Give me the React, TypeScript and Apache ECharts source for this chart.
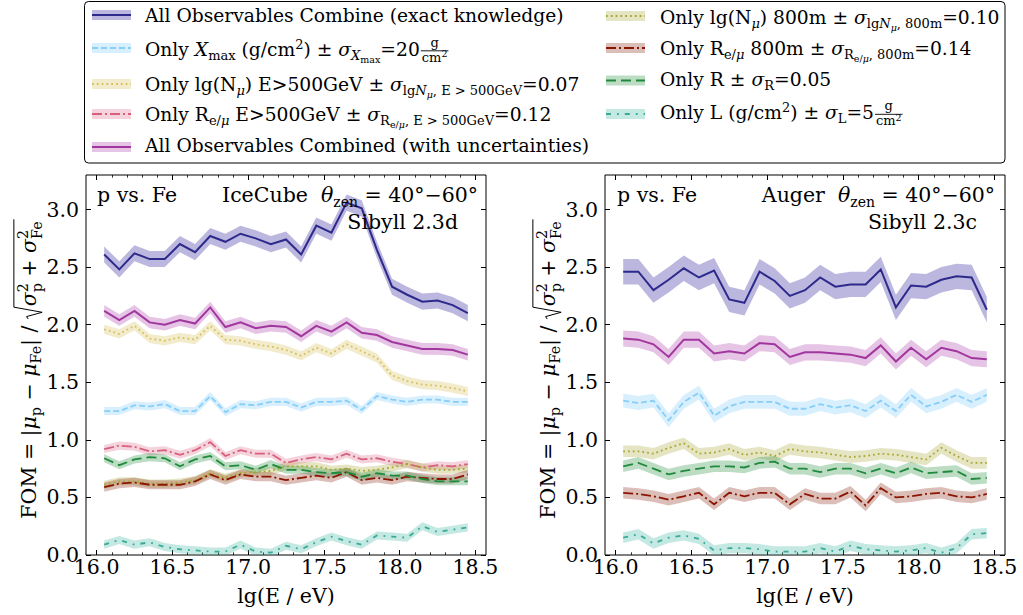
import { useEffect, useRef } from 'react';
import * as echarts from 'echarts';

// ---------------- data ----------------
const energies = [16.05, 16.15, 16.25, 16.35, 16.45, 16.55, 16.65, 16.75, 16.85, 16.95, 17.05, 17.15, 17.25, 17.35, 17.45, 17.55, 17.65, 17.75, 17.85, 17.95, 18.05, 18.15, 18.25, 18.35, 18.45];

// IceCube panel (Sibyll 2.3d)
const icExact = [2.61, 2.48, 2.62, 2.57, 2.57, 2.70, 2.63, 2.77, 2.72, 2.79, 2.75, 2.70, 2.74, 2.61, 2.86, 2.80, 3.06, 3.01, 2.65, 2.33, 2.26, 2.20, 2.21, 2.17, 2.10];
const icCombined = [2.12, 2.04, 2.12, 2.02, 2.00, 2.04, 2.01, 2.15, 1.98, 2.02, 1.97, 1.99, 1.98, 1.90, 1.99, 1.94, 2.02, 1.93, 1.91, 1.85, 1.82, 1.79, 1.79, 1.78, 1.74];
const icLgNmuE500 = [1.96, 1.92, 1.99, 1.88, 1.86, 1.89, 1.87, 1.99, 1.87, 1.86, 1.83, 1.81, 1.78, 1.73, 1.80, 1.75, 1.83, 1.77, 1.71, 1.56, 1.51, 1.48, 1.47, 1.45, 1.42];
const icXmax = [1.25, 1.25, 1.30, 1.29, 1.31, 1.25, 1.25, 1.38, 1.24, 1.31, 1.30, 1.33, 1.33, 1.28, 1.33, 1.33, 1.34, 1.26, 1.38, 1.35, 1.33, 1.35, 1.35, 1.33, 1.33];
const icRemuE500 = [0.92, 0.95, 0.94, 0.90, 0.91, 0.87, 0.91, 0.98, 0.86, 0.91, 0.88, 0.88, 0.80, 0.83, 0.85, 0.83, 0.88, 0.83, 0.84, 0.81, 0.79, 0.76, 0.78, 0.77, 0.79];
const icLgNmu800 = [0.61, 0.64, 0.64, 0.62, 0.62, 0.63, 0.65, 0.71, 0.67, 0.71, 0.72, 0.73, 0.77, 0.77, 0.77, 0.74, 0.75, 0.73, 0.74, 0.76, 0.79, 0.76, 0.74, 0.74, 0.75];
const icRemu800 = [0.59, 0.62, 0.63, 0.61, 0.61, 0.61, 0.64, 0.70, 0.65, 0.70, 0.68, 0.68, 0.65, 0.67, 0.69, 0.67, 0.72, 0.65, 0.67, 0.65, 0.68, 0.67, 0.66, 0.66, 0.70];
const icR = [0.84, 0.78, 0.83, 0.85, 0.84, 0.77, 0.83, 0.86, 0.77, 0.78, 0.74, 0.79, 0.74, 0.74, 0.72, 0.71, 0.72, 0.68, 0.71, 0.69, 0.69, 0.66, 0.64, 0.64, 0.64];
const icL = [0.09, 0.13, 0.09, 0.11, 0.07, 0.05, 0.04, 0.03, 0.03, 0.09, 0.03, 0.02, 0.08, 0.05, 0.11, 0.16, 0.12, 0.09, 0.17, 0.16, 0.15, 0.25, 0.20, 0.22, 0.24];

// Auger panel (Sibyll 2.3c)
const agExact = [2.46, 2.46, 2.30, 2.39, 2.49, 2.41, 2.47, 2.22, 2.19, 2.46, 2.38, 2.25, 2.30, 2.41, 2.33, 2.35, 2.35, 2.48, 2.15, 2.34, 2.33, 2.39, 2.42, 2.41, 2.13];
const agCombined = [1.88, 1.87, 1.83, 1.72, 1.87, 1.87, 1.75, 1.77, 1.75, 1.84, 1.83, 1.72, 1.76, 1.76, 1.75, 1.74, 1.71, 1.82, 1.68, 1.80, 1.70, 1.80, 1.77, 1.71, 1.70];
const agXmax = [1.34, 1.32, 1.34, 1.17, 1.33, 1.41, 1.21, 1.29, 1.33, 1.33, 1.33, 1.27, 1.27, 1.31, 1.28, 1.30, 1.25, 1.34, 1.25, 1.39, 1.29, 1.33, 1.39, 1.33, 1.39];
const agLgNmu800 = [0.90, 0.90, 0.88, 0.93, 0.97, 0.88, 0.89, 0.92, 0.87, 0.89, 0.86, 0.92, 0.90, 0.89, 0.87, 0.85, 0.86, 0.88, 0.87, 0.85, 0.83, 0.93, 0.86, 0.80, 0.80];
const agRemu800 = [0.54, 0.53, 0.51, 0.48, 0.51, 0.54, 0.44, 0.54, 0.51, 0.54, 0.54, 0.44, 0.53, 0.49, 0.49, 0.55, 0.43, 0.58, 0.50, 0.51, 0.53, 0.54, 0.51, 0.50, 0.53];
const agR = [0.77, 0.80, 0.75, 0.70, 0.73, 0.75, 0.77, 0.77, 0.76, 0.80, 0.81, 0.75, 0.75, 0.72, 0.75, 0.75, 0.71, 0.75, 0.71, 0.76, 0.71, 0.72, 0.73, 0.66, 0.67];
const agL = [0.15, 0.18, 0.10, 0.15, 0.17, 0.14, 0.04, 0.06, 0.06, 0.05, 0.03, 0.03, 0.03, 0.06, 0.03, 0.08, 0.05, 0.04, 0.03, 0.04, 0.06, 0.02, 0.06, 0.18, 0.19];

// half-widths of the shaded uncertainty bands
const icExactErr = 0.07, icCombinedErr = 0.05, icLgNmuE500Err = 0.04, icXmaxErr = 0.035, icRemuE500Err = 0.035;
const icLgNmu800Err = 0.035, icRemu800Err = 0.04, icRErr = 0.035, icLErr = 0.035;
const agExactErr = 0.11, agCombinedErr = 0.07, agXmaxErr = 0.06, agLgNmu800Err = 0.05;
const agRemu800Err = 0.05, agRErr = 0.05, agLErr = 0.045;

// axes
const X_MIN = 15.93, X_MAX = 18.57, Y_MIN = 0, Y_MAX = 3.3;
const xMajorTicks = [16.0, 16.5, 17.0, 17.5, 18.0, 18.5];
const xMinorTicks = [16.1, 16.2, 16.3, 16.4, 16.6, 16.7, 16.8, 16.9, 17.1, 17.2, 17.3, 17.4, 17.6, 17.7, 17.8, 17.9, 18.1, 18.2, 18.3, 18.4];
const yMajorTicks = [0, 0.5, 1.0, 1.5, 2.0, 2.5, 3.0];

// ---------------- styles ----------------
const STY: Record<string, { line: string; band: string; dash: any; w: number }> = {
  exact: { line: '#2e2a8c', band: 'rgba(60,50,160,0.35)', dash: 'solid', w: 2 },
  xmax: { line: '#87cefa', band: 'rgba(135,206,250,0.32)', dash: [6, 3], w: 1.8 },
  lgE500: { line: '#d6c05e', band: 'rgba(222,200,110,0.35)', dash: [1.8, 3], w: 1.8 },
  remuE500: { line: '#d8607e', band: 'rgba(220,110,140,0.3)', dash: [10, 3, 2, 3], w: 1.8 },
  combined: { line: '#a1379e', band: 'rgba(170,60,170,0.3)', dash: 'solid', w: 2 },
  lg800: { line: '#a8a832', band: 'rgba(170,170,60,0.3)', dash: [1.8, 3], w: 1.8 },
  remu800: { line: '#8b1500', band: 'rgba(139,40,20,0.3)', dash: [10, 3, 2, 3], w: 1.8 },
  R: { line: '#1f8a3c', band: 'rgba(34,139,60,0.3)', dash: [10, 5], w: 1.8 },
  L: { line: '#3aaa98', band: 'rgba(60,180,160,0.3)', dash: [5, 6, 1.8, 6], w: 1.8 },
};

const panels = [
  [
    { d: icExact, e: icExactErr, s: 'exact' },
    { d: icXmax, e: icXmaxErr, s: 'xmax' },
    { d: icLgNmuE500, e: icLgNmuE500Err, s: 'lgE500' },
    { d: icRemuE500, e: icRemuE500Err, s: 'remuE500' },
    { d: icCombined, e: icCombinedErr, s: 'combined' },
    { d: icLgNmu800, e: icLgNmu800Err, s: 'lg800' },
    { d: icRemu800, e: icRemu800Err, s: 'remu800' },
    { d: icR, e: icRErr, s: 'R' },
    { d: icL, e: icLErr, s: 'L' },
  ],
  [
    { d: agExact, e: agExactErr, s: 'exact' },
    { d: agXmax, e: agXmaxErr, s: 'xmax' },
    { d: agCombined, e: agCombinedErr, s: 'combined' },
    { d: agLgNmu800, e: agLgNmu800Err, s: 'lg800' },
    { d: agRemu800, e: agRemu800Err, s: 'remu800' },
    { d: agR, e: agRErr, s: 'R' },
    { d: agL, e: agLErr, s: 'L' },
  ],
];

// ---------------- math-text layout helpers ----------------
const FAM = 'DejaVu Serif';
const KC = 0.33;
let ctx: CanvasRenderingContext2D | null = null;
function tw(t: string, fs: number, it?: boolean) {
  if (!ctx) ctx = document.createElement('canvas').getContext('2d');
  ctx!.font = `${it ? 'italic ' : ''}${fs}px "${FAM}"`;
  return ctx!.measureText(t).width;
}
function txt(t: string, x: number, base: number, fs: number, it?: boolean) {
  return {
    type: 'text', x, y: base - KC * fs, z: 100, silent: true,
    style: {
      text: t, fontSize: fs, fontFamily: FAM, fontStyle: it ? 'italic' : 'normal', fill: '#000',
      align: 'left', verticalAlign: 'middle', textAlign: 'left', textVerticalAlign: 'middle',
    },
  };
}
function runItems(items: any[], x: number, base: number, out: any[] | null): number {
  let prevStart = x;
  let prevEnd = x;
  for (const it of items) {
    if (it.frac) {
      const fs = it.fs;
      const nw = runItems(it.frac[0], 0, 0, null);
      const dw = runItems(it.frac[1], 0, 0, null);
      const W = Math.max(nw, dw) + 2;
      const bar = base - 0.25 * fs;
      if (out) {
        runItems(it.frac[0], x + 1 + (W - nw) / 2, bar - 0.22 * fs, out);
        runItems(it.frac[1], x + 1 + (W - dw) / 2, bar + 0.57 * fs, out);
        out.push({ type: 'line', z: 100, silent: true, shape: { x1: x + 1, y1: bar, x2: x + 1 + W, y2: bar }, style: { stroke: '#000', lineWidth: 0.9 } });
      }
      prevStart = x;
      x += W + 2;
      prevEnd = x;
    } else if (it.sqrt) {
      const fs = it.fs;
      const iw = runItems(it.sqrt, 0, 0, null);
      const top = base - 1.08 * fs;
      const bot = base + 0.3 * fs;
      const cx = x + 0.62 * fs;
      if (out) {
        out.push({
          type: 'polyline', z: 100, silent: true,
          shape: { points: [[x, base - 0.38 * fs], [x + 0.12 * fs, base - 0.46 * fs], [x + 0.33 * fs, bot], [x + 0.58 * fs, top], [cx + iw + 0.1 * fs, top]] },
          style: { stroke: '#000', lineWidth: 1, fill: 'none' },
        });
        runItems(it.sqrt, cx, base, out);
      }
      prevStart = x;
      x = cx + iw + 0.1 * fs;
      prevEnd = x;
    } else {
      const start = it.stack ? prevStart : x;
      const w = tw(it.t, it.fs, it.it);
      if (out) out.push(txt(it.t, start, base + (it.dy || 0), it.fs, it.it));
      if (it.stack) {
        x = Math.max(prevEnd, start + w);
      } else {
        prevStart = start;
        x = start + w;
      }
      prevEnd = x;
    }
  }
  return x;
}
function mathGroup(items: any[], x: number, base: number, align: string, rotation = 0) {
  const W = runItems(items, 0, 0, null);
  const x0 = align === 'left' ? 0 : align === 'right' ? -W : -W / 2;
  const children: any[] = [];
  runItems(items, x0, 0, children);
  return { type: 'group', x, y: base, rotation, children, z: 100 };
}

// legend text pieces
const F = 18.7, S = 13, SS = 9.5;
const R = (t: string, fs = F) => ({ t, fs });
const I = (t: string, fs = F) => ({ t, fs, it: true });
const sb = (t: string, it = false) => ({ t, fs: S, it, dy: 0.22 * F });
const ssb = (t: string, it = false) => ({ t, fs: SS, it, dy: 0.22 * F + 0.2 * S });
const sp = (t: string) => ({ t, fs: S, dy: -0.38 * F });
const unitFrac = () => ({ frac: [[{ t: 'g', fs: S }], [{ t: 'cm', fs: S }, { t: '2', fs: SS, dy: -0.35 * S }]], fs: F });

const legendLeft = [
  { s: 'exact', items: [R('All Observables Combine (exact knowledge)')] },
  { s: 'xmax', items: [R('Only '), I('X'), sb('max'), R(' (g/cm'), sp('2'), R(') ± '), I('σ'), sb('X', true), ssb('max'), R('=20'), unitFrac()] },
  { s: 'lgE500', items: [R('Only lg(N'), sb('μ', true), R(') E>500GeV ± '), I('σ'), sb('lg'), sb('N', true), ssb('μ', true), sb(', E > 500GeV'), R('=0.07')] },
  { s: 'remuE500', items: [R('Only R'), sb('e/'), sb('μ', true), R(' E>500GeV ± '), I('σ'), sb('R'), ssb('e/'), ssb('μ', true), sb(', E > 500GeV'), R('=0.12')] },
  { s: 'combined', items: [R('All Observables Combined (with uncertainties)')] },
];
const legendRight = [
  { s: 'lg800', items: [R('Only lg(N'), sb('μ', true), R(') 800m ± '), I('σ'), sb('lg'), sb('N', true), ssb('μ', true), sb(', 800m'), R('=0.10')] },
  { s: 'remu800', items: [R('Only R'), sb('e/'), sb('μ', true), R(' 800m ± '), I('σ'), sb('R'), ssb('e/'), ssb('μ', true), sb(', 800m'), R('=0.14')] },
  { s: 'R', items: [R('Only R ± '), I('σ'), sb('R'), R('=0.05')] },
  { s: 'L', items: [R('Only L (g/cm'), sp('2'), R(') ± '), I('σ'), sb('L'), R('=5'), unitFrac()] },
];
const legLeftHandleY = [15, 48, 84, 114, 147];
const legLeftBaseY = [22, 55.5, 90.5, 120.5, 152];
const legRightHandleY = [16, 48, 80.5, 114];
const legRightBaseY = [23.5, 55, 86, 119];

function handle(x: number, cy: number, key: string) {
  const st = STY[key];
  return [
    { type: 'rect', z: 99, silent: true, shape: { x, y: cy - 5, width: 39, height: 10 }, style: { fill: st.band } },
    {
      type: 'line', z: 100, silent: true, shape: { x1: x, y1: cy, x2: x + 39, y2: cy },
      style: { stroke: st.line, lineWidth: st.w, lineDash: st.dash === 'solid' ? null : st.dash },
    },
  ];
}

// annotations
const A = 20.5;
const AS = 14;
const annoLeft = [R('IceCube  ', A), I('θ', A), { t: 'zen', fs: AS, dy: 0.22 * A }, R(' = 40°−60°', A)];
const annoRight = [R('Auger  ', A), I('θ', A), { t: 'zen', fs: AS, dy: 0.22 * A }, R(' = 40°−60°', A)];

// y-axis title
const YF = 20.5, YS = 14.3;
const yTitle = [
  R('FOM = |', YF), I('μ', YF), { t: 'p', fs: YS, dy: 0.22 * YF }, R(' − ', YF), I('μ', YF), { t: 'Fe', fs: YS, dy: 0.22 * YF }, R('| / ', YF),
  {
    sqrt: [
      I('σ', YF), { t: '2', fs: YS, dy: -0.42 * YF }, { t: 'p', fs: YS, dy: 0.28 * YF, stack: true },
      R(' + ', YF),
      I('σ', YF), { t: '2', fs: YS, dy: -0.42 * YF }, { t: 'Fe', fs: YS, dy: 0.28 * YF, stack: true },
    ],
    fs: YF,
  },
];

const GRID_L = [86, 605];
const GRID_TOP = 175, GRID_W = 400, GRID_H = 380;

function buildOption() {
  const tickFont = { fontSize: 20.5, fontFamily: FAM, color: '#000' };
  const xAxis: any[] = [];
  const yAxis: any[] = [];
  [0, 1].forEach((g) => {
    const base = { gridIndex: g, type: 'value', min: X_MIN, max: X_MAX, axisLine: { show: false }, splitLine: { show: false } };
    xAxis.push({
      ...base, position: 'bottom',
      axisTick: { inside: true, length: 5, customValues: xMajorTicks, lineStyle: { color: '#000', width: 1 } },
      axisLabel: { customValues: xMajorTicks, formatter: (v: number) => v.toFixed(1), margin: 1, ...tickFont },
      name: 'lg(E / eV)', nameLocation: 'middle', nameGap: 30,
      nameTextStyle: { fontSize: 20.5, fontFamily: FAM, color: '#000' },
    });
    xAxis.push({ ...base, position: 'bottom', axisTick: { inside: true, length: 2.7, customValues: xMinorTicks, lineStyle: { color: '#000', width: 0.8 } }, axisLabel: { show: false } });
    xAxis.push({ ...base, position: 'top', axisTick: { inside: true, length: 5, customValues: xMajorTicks, lineStyle: { color: '#000', width: 1 } }, axisLabel: { show: false } });
    xAxis.push({ ...base, position: 'top', axisTick: { inside: true, length: 2.7, customValues: xMinorTicks, lineStyle: { color: '#000', width: 0.8 } }, axisLabel: { show: false } });
    const ybase = { gridIndex: g, type: 'value', min: Y_MIN, max: Y_MAX, axisLine: { show: false }, splitLine: { show: false } };
    yAxis.push({
      ...ybase, position: 'left',
      axisTick: { inside: true, length: 5, customValues: yMajorTicks, lineStyle: { color: '#000', width: 1 } },
      axisLabel: { customValues: yMajorTicks, formatter: (v: number) => v.toFixed(1), margin: 7, ...tickFont },
    });
    yAxis.push({ ...ybase, position: 'right', axisTick: { inside: true, length: 5, customValues: yMajorTicks, lineStyle: { color: '#000', width: 1 } }, axisLabel: { show: false } });
  });

  const series: any[] = [];
  panels.forEach((list, g) => {
    list.forEach((it) => {
      const st = STY[it.s];
      const lo = it.d.map((v) => v - it.e);
      const hi = it.d.map((v) => v + it.e);
      // shaded band: one polygon through the axis scales
      series.push({
        type: 'custom', xAxisIndex: 4 * g, yAxisIndex: 2 * g, z: 1, silent: true, clip: true,
        data: energies.map((x, i) => [x, lo[i], hi[i]]),
        encode: { x: 0, y: [1, 2] },
        renderItem: (params: any, api: any) => {
          if (params.dataIndex !== 0) return null;
          const up: number[][] = [];
          const dn: number[][] = [];
          for (let i = 0; i < energies.length; i++) {
            up.push(api.coord([energies[i], hi[i]]));
            dn.push(api.coord([energies[i], lo[i]]));
          }
          return { type: 'polygon', shape: { points: up.concat(dn.reverse()) }, style: { fill: st.band, stroke: 'none' } };
        },
      });
      series.push({
        type: 'line', xAxisIndex: 4 * g, yAxisIndex: 2 * g, symbol: 'none', silent: true, z: 2,
        data: energies.map((x, i) => [x, it.d[i]]),
        lineStyle: { color: st.line, width: st.w, type: st.dash, cap: 'butt', join: 'miter' },
      });
    });
  });

  const graphic: any[] = [];
  // legend box
  graphic.push({ type: 'rect', z: 98, silent: true, shape: { x: 84.5, y: 1.5, width: 920.5, height: 161.5, r: 4 }, style: { fill: '#fff', stroke: '#000', lineWidth: 1 } });
  legendLeft.forEach((row, i) => {
    graphic.push(...handle(92, legLeftHandleY[i], row.s));
    graphic.push(mathGroup(row.items, 145, legLeftBaseY[i], 'left'));
  });
  legendRight.forEach((row, i) => {
    graphic.push(...handle(606, legRightHandleY[i], row.s));
    graphic.push(mathGroup(row.items, 660, legRightBaseY[i], 'left'));
  });
  // panel annotations
  graphic.push(mathGroup([R('p vs. Fe', A)], GRID_L[0] + 11, 202, 'left'));
  graphic.push(mathGroup(annoLeft, GRID_L[0] + GRID_W - 8, 202, 'right'));
  graphic.push(mathGroup([R('Sibyll 2.3d', A)], GRID_L[0] + GRID_W - 28, 229, 'right'));
  graphic.push(mathGroup([R('p vs. Fe', A)], GRID_L[1] + 12, 202, 'left'));
  graphic.push(mathGroup(annoRight, GRID_L[1] + GRID_W - 10, 202, 'right'));
  graphic.push(mathGroup([R('Sibyll 2.3c', A)], GRID_L[1] + GRID_W - 28, 229, 'right'));
  // y-axis titles
  graphic.push(mathGroup(yTitle, GRID_L[0] - 50, GRID_TOP + GRID_H / 2 + 4, 'center', Math.PI / 2));
  graphic.push(mathGroup(yTitle, GRID_L[1] - 50, GRID_TOP + GRID_H / 2 + 4, 'center', Math.PI / 2));

  return {
    animation: false,
    backgroundColor: '#fff',
    grid: GRID_L.map((left) => ({ left, top: GRID_TOP, width: GRID_W, height: GRID_H, show: true, borderColor: '#000', borderWidth: 1, backgroundColor: 'transparent', containLabel: false })),
    xAxis,
    yAxis,
    series,
    graphic,
  };
}

export default function App() {
  const ref = useRef<HTMLDivElement>(null);
  useEffect(() => {
    if (!ref.current) return;
    const chart = echarts.init(ref.current, undefined, { renderer: 'svg' });
    chart.setOption(buildOption() as any);
    return () => chart.dispose();
  }, []);
  return <div ref={ref} style={{ position: 'fixed', left: 0, top: 0, width: 1023, height: 615, background: '#fff' }} />;
}
